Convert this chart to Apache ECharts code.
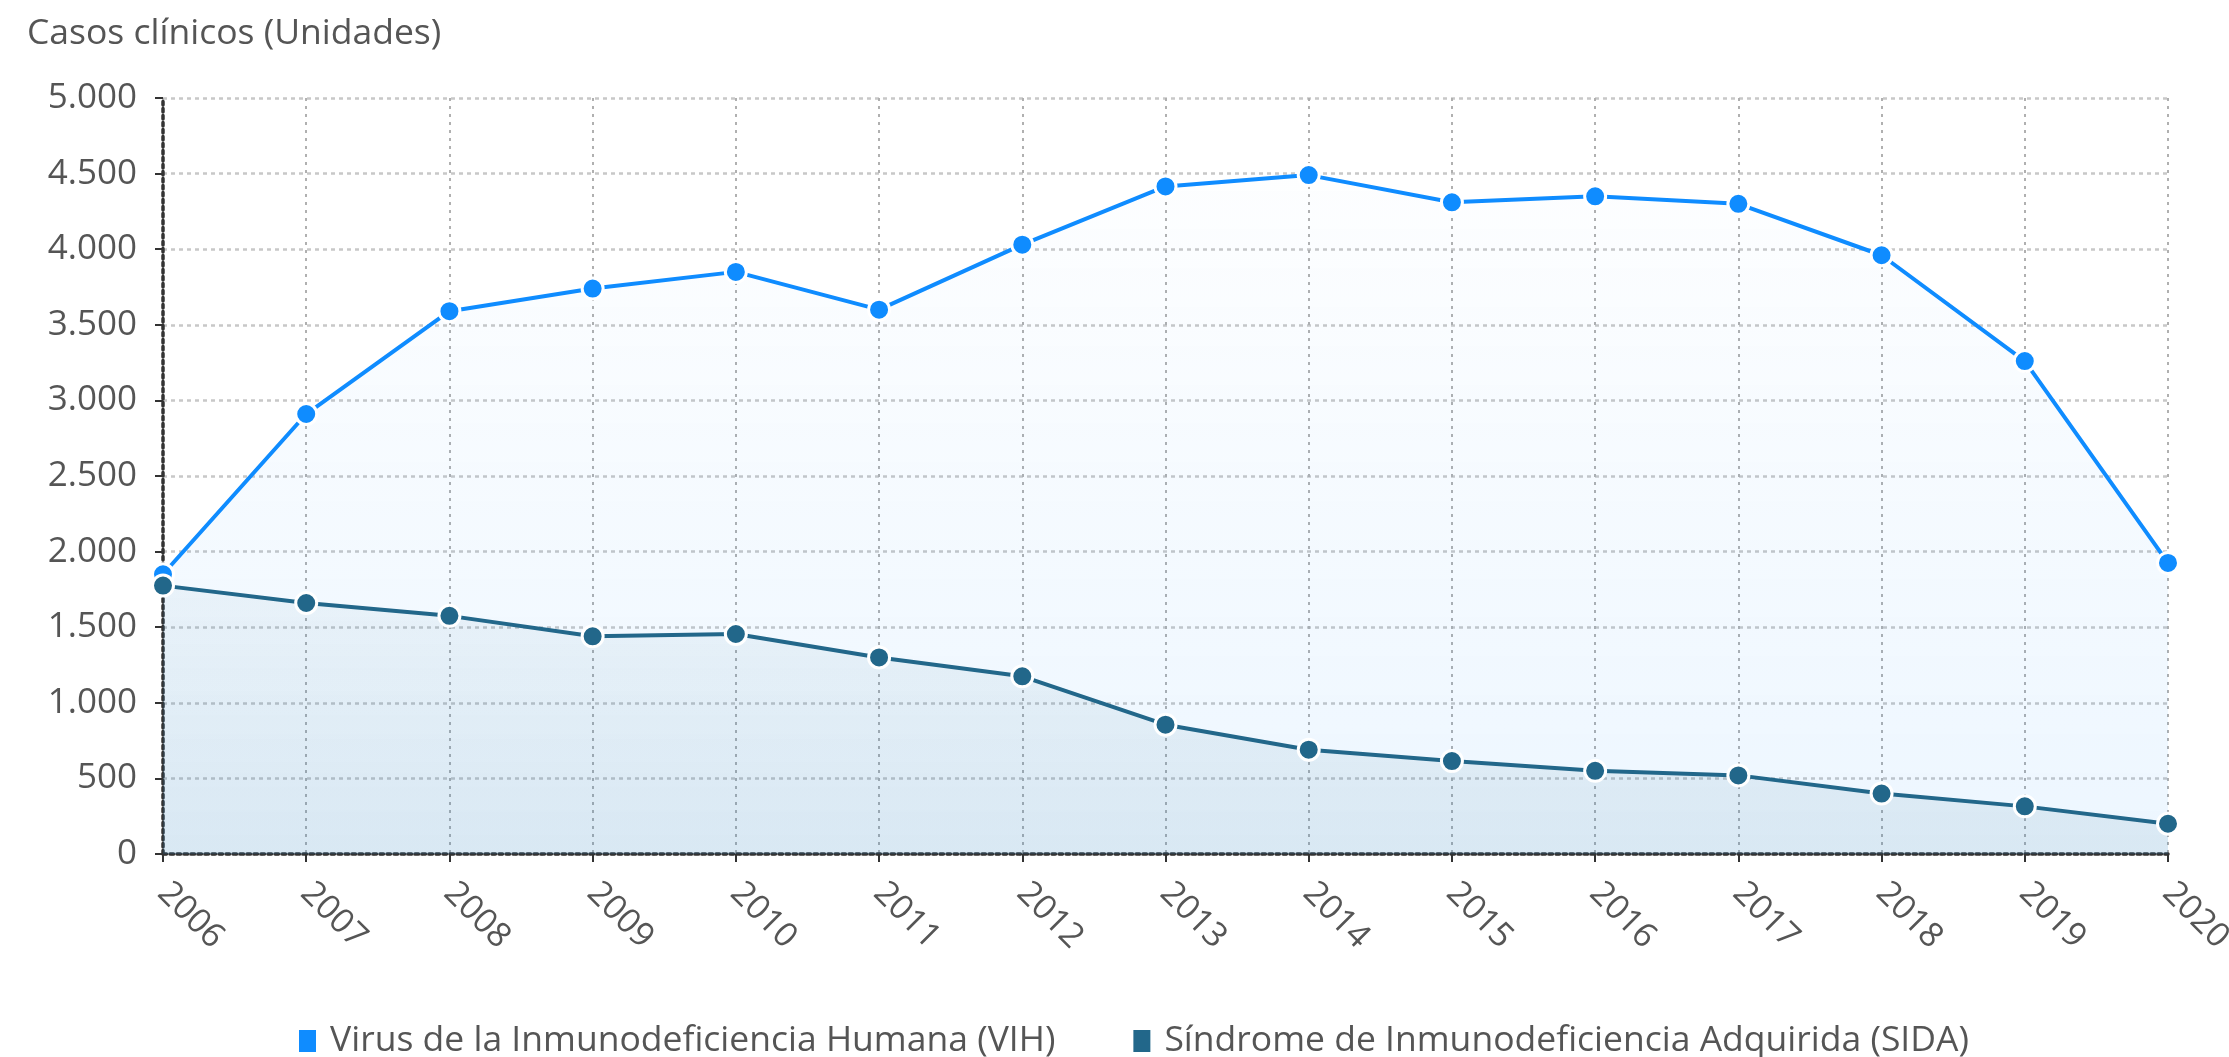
<!DOCTYPE html>
<html>
<head>
<meta charset="utf-8">
<script src="https://cdn.jsdelivr.net/npm/echarts@6/dist/echarts.min.js"></script>
<style>
  html, body { margin: 0; padding: 0; background: #fff; }
  #Chart1 { width: 2229px; height: 1057px; }
</style>
</head>
<body>
<div id="Chart1"></div>
<script>
const years = ["2006", "2007", "2008", "2009", "2010", "2011", "2012", "2013", "2014", "2015", "2016", "2017", "2018", "2019", "2020"];
const vih = [1850, 2910, 3590, 3740, 3850, 3600, 4030, 4415, 4490, 4310, 4350, 4300, 3960, 3260, 1925];
const sida = [1775, 1660, 1575, 1440, 1455, 1300, 1175, 855, 690, 615, 550, 520, 400, 315, 200];
const seriesNames = ["Virus de la Inmunodeficiencia Humana (VIH)", "Síndrome de Inmunodeficiencia Adquirida (SIDA)"];

const myChart = echarts.init(document.getElementById("Chart1"));

const font = "Open Sans";

const option = {
  animation: false,
  title: {
    text: "Casos clínicos (Unidades)",
    left: 22,
    top: 11,
    textStyle: { fontFamily: font, fontSize: 35.5, fontWeight: "normal", color: "#555" },
  },
  legend: {
    data: seriesNames,
    top: 1018,
    left: 292,
    itemWidth: 19,
    itemHeight: 24,
    itemGap: 76,
    icon: "rect",
    textStyle: { fontFamily: font, fontSize: 35.5, color: "#555", padding: [0, 0, 0, 8] },
  },
  grid: { left: 163, right: 61, top: 98, bottom: 203, outerBoundsMode: "none", containLabel: false },
  xAxis: {
    type: "category",
    boundaryGap: false,
    data: years,
    axisLine: { lineStyle: { color: "#333", width: 3.5, type: "dotted" } },
    axisTick: { show: true, length: 8, lineStyle: { color: "#333", width: 2 } },
    axisLabel: { rotate: -45, margin: 34, fontFamily: font, fontSize: 34, color: "#555" },
    splitLine: { show: true, lineStyle: { color: "#b0b0b0", width: 2, type: [3, 5] } },
  },
  yAxis: {
    type: "value",
    min: 0,
    max: 5000,
    interval: 500,
    axisLine: { show: true, lineStyle: { color: "#333", width: 3.5, type: "dotted" } },
    axisTick: { show: true, length: 8, lineStyle: { color: "#333", width: 2 } },
    axisLabel: {
      margin: 26,
      fontFamily: font,
      fontSize: 35,
      color: "#555",
      formatter: (v) => v.toString().replace(/\B(?=(\d{3})+(?!\d))/g, "."),
    },
    splitLine: { show: true, lineStyle: { color: "#c8c8c8", width: 2.5, type: [4, 4] } },
  },
  series: [
    {
      name: seriesNames[0],
      type: "line",
      data: vih,
      color: "#0f8cff",
      symbol: "circle",
      symbolSize: 21,
      lineStyle: { width: 4, color: "#0f8cff" },
      itemStyle: { color: "#0f8cff", borderColor: "#fff", borderWidth: 3 },
      areaStyle: {
        color: new echarts.graphic.LinearGradient(0, 0, 0, 1, [
          { offset: 0, color: "rgba(15,140,255,0.01)" },
          { offset: 1, color: "rgba(15,140,255,0.11)" },
        ]),
      },
      z: 2,
    },
    {
      name: seriesNames[1],
      type: "line",
      data: sida,
      color: "#22678a",
      symbol: "circle",
      symbolSize: 21,
      lineStyle: { width: 4, color: "#22678a" },
      itemStyle: { color: "#22678a", borderColor: "#fff", borderWidth: 3 },
      areaStyle: {
        color: new echarts.graphic.LinearGradient(0, 0, 0, 1, [
          { offset: 0, color: "rgba(34,103,138,0.07)" },
          { offset: 1, color: "rgba(34,103,138,0.14)" },
        ]),
      },
      z: 3,
    },
  ],
};

myChart.setOption(option);
</script>
</body>
</html>
